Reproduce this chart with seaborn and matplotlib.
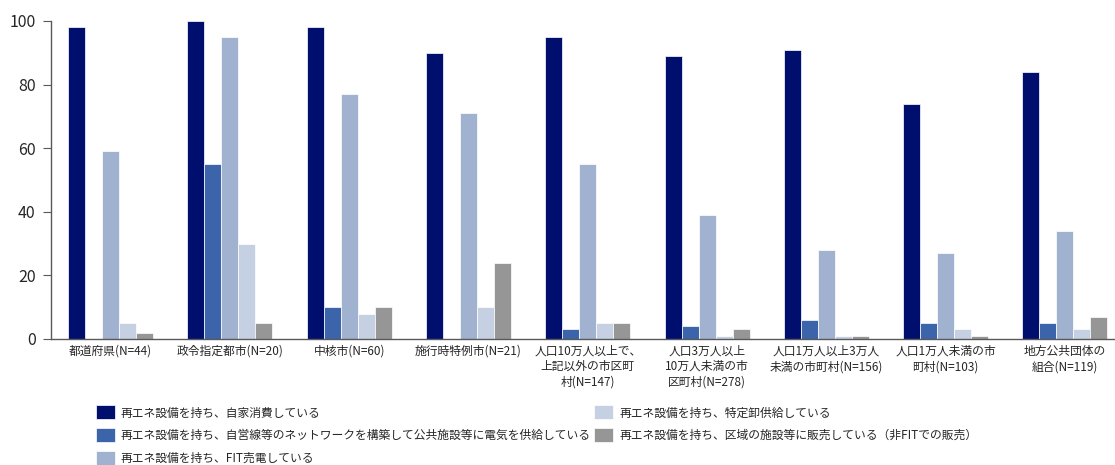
import numpy as np
import pandas as pd
import matplotlib
matplotlib.use('Agg')
import matplotlib.pyplot as plt
import seaborn as sns

categories = [
    '都道府県(N=44)',
    '政令指定都市(N=20)',
    '中核市(N=60)',
    '施行時特例市(N=21)',
    '人口10万人以上で、\n上記以外の市区町\n村(N=147)',
    '人口3万人以上\n10万人未満の市\n区町村(N=278)',
    '人口1万人以上3万人\n未満の市町村(N=156)',
    '人口1万人未満の市\n町村(N=103)',
    '地方公共団体の\n組合(N=119)',
]
series_names = [
    '再エネ設備を持ち、自家消費している',
    '再エネ設備を持ち、自営線等のネットワークを構築して公共施設等に電気を供給している',
    '再エネ設備を持ち、FIT売電している',
    '再エネ設備を持ち、特定卸供給している',
    '再エネ設備を持ち、区域の施設等に販売している（非FITでの販売）',
]
self_consumption = [98, 100, 98, 90, 95, 89, 91, 74, 84]
own_network = [0, 55, 10, 0, 3, 4, 6, 5, 5]
fit_sales = [59, 95, 77, 71, 55, 39, 28, 27, 34]
wholesale = [5, 30, 8, 10, 5, 1, 1, 3, 3]
non_fit_sales = [2, 5, 10, 24, 5, 3, 1, 1, 7]
colors = ['#000F6E', '#3C64AA', '#A0B2CF', '#C5D0E2', '#969696']

series_values = [self_consumption, own_network, fit_sales, wholesale, non_fit_sales]
rows = []
for name, vals in zip(series_names, series_values):
    for cat, v in zip(categories, vals):
        rows.append({'category': cat, 'series': name, 'value': v})
df = pd.DataFrame(rows)

sns.set_style('white')
plt.rcParams['font.family'] = ['Noto Sans CJK JP', 'DejaVu Sans']

fig = plt.figure(figsize=(11.15, 4.65), dpi=100)
ax = fig.add_axes([0.0457, 0.271, 0.9543, 0.684])

sns.barplot(data=df, x='category', y='value', hue='series', hue_order=series_names,
            order=categories, palette=colors, saturation=1, width=0.713, ax=ax,
            edgecolor='white', linewidth=0.5, errorbar=None)

ax.set_ylim(0, 100)
ax.set_xlim(-0.5, 8.42)
ax.set_yticks([0, 20, 40, 60, 80, 100])
ax.set_xlabel('')
ax.set_ylabel('')
ax.tick_params(axis='y', labelsize=11.5, length=6, width=0.8, color='#595959', direction='out', left=True, pad=5)
ax.tick_params(axis='x', labelsize=8.5, length=0, pad=4)
for lab in ax.get_xticklabels():
    lab.set_linespacing(1.25)
sns.despine(ax=ax)
for s in ['left', 'bottom']:
    ax.spines[s].set_color('#595959')
    ax.spines[s].set_linewidth(1.0)

handles, labels = ax.get_legend_handles_labels()
ax.legend_.remove()
fig.legend(handles, labels, ncol=2, loc='upper left', bbox_to_anchor=(0.086, 0.128),
           frameon=False, fontsize=8.5, handlelength=1.6, handleheight=1.45,
           handletextpad=0.5, columnspacing=0.3, labelspacing=0.72, borderaxespad=0,
           borderpad=0)

fig.savefig('out.png', dpi=100)
